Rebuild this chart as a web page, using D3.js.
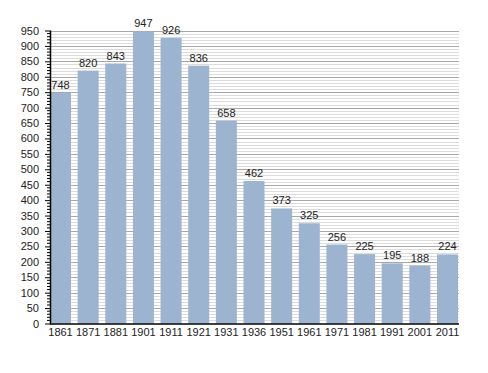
<!DOCTYPE html>
<html>
<head>
<meta charset="utf-8">
<script src="https://cdn.jsdelivr.net/npm/d3@7"></script>
<style>
  body { margin: 0; background: #fff; }
  text { font-family: "Liberation Sans", Arial, sans-serif; }
</style>
</head>
<body>
<svg width="488" height="373"></svg>
<script>
const years = ["1861","1871","1881","1901","1911","1921","1931","1936","1951","1961","1971","1981","1991","2001","2011"];
const population = [748, 820, 843, 947, 926, 836, 658, 462, 373, 325, 256, 225, 195, 188, 224];
const yTicks = d3.range(0, 951, 50);

const svg = d3.select("svg");
const plotLeft = 50, plotRight = 459, plotTop = 30.5, plotBottom = 323.5;

const x = d3.scaleBand().domain(years).range([plotLeft, plotRight - 1]).paddingInner(0.24).paddingOuter(0);
const y = d3.scaleLinear().domain([0, 950]).range([plotBottom, plotTop]);

// grid lines: light every 10, darker every 50
const grid = svg.append("g");
grid.selectAll("line.minor")
  .data(d3.range(10, 951, 10).filter(v => v % 50 !== 0))
  .enter().append("line")
  .attr("x1", plotLeft).attr("x2", plotRight)
  .attr("y1", d => Math.round(y(d)) + 0.5).attr("y2", d => Math.round(y(d)) + 0.5)
  .attr("stroke", "#dcdcdc").attr("stroke-width", 1);
grid.selectAll("line.major")
  .data(yTicks.filter(v => v > 0))
  .enter().append("line")
  .attr("x1", plotLeft).attr("x2", plotRight)
  .attr("y1", d => Math.round(y(d)) + 0.5).attr("y2", d => Math.round(y(d)) + 0.5)
  .attr("stroke", "#a8a8a8").attr("stroke-width", 1);

// bars
svg.append("g").selectAll("rect")
  .data(years)
  .enter().append("rect")
  .attr("x", d => x(d))
  .attr("width", x.bandwidth())
  .attr("y", (d, i) => y(population[i]))
  .attr("height", (d, i) => y(0) - y(population[i]))
  .attr("fill", "#9cb4cf");

// value labels
svg.append("g").selectAll("text")
  .data(years)
  .enter().append("text")
  .attr("x", d => x(d) + x.bandwidth() / 2)
  .attr("y", (d, i) => y(population[i]) - 4)
  .attr("text-anchor", "middle")
  .attr("font-size", 11)
  .attr("fill", "#222")
  .text((d, i) => population[i]);

// y axis with minor ticks
const yAxis = svg.append("g").attr("transform", "translate(" + plotLeft + ",0)");
yAxis.call(d3.axisLeft(y).tickValues(yTicks).tickSize(5).tickPadding(6))
  .call(g => g.select(".domain").remove())
  .call(g => g.selectAll("text").attr("font-size", 11).attr("fill", "#222").attr("font-family", "Liberation Sans, Arial, sans-serif"))
  .call(g => g.selectAll("line").attr("stroke", "#000"));
yAxis.selectAll("line.mt")
  .data(d3.range(0, 951, 10).filter(v => v % 50 !== 0))
  .enter().append("line")
  .attr("x1", -3).attr("x2", 0)
  .attr("y1", d => y(d)).attr("y2", d => y(d))
  .attr("stroke", "#000");
yAxis.append("line")
  .attr("x1", 0.5).attr("x2", 0.5)
  .attr("y1", plotTop).attr("y2", plotBottom + 1)
  .attr("stroke", "#000").attr("stroke-width", 1.5);

// x axis
const xAxis = svg.append("g").attr("transform", "translate(0," + plotBottom + ")");
xAxis.call(d3.axisBottom(x).tickSize(0).tickPadding(5))
  .call(g => g.select(".domain").remove())
  .call(g => g.selectAll("text").attr("font-size", 11).attr("fill", "#222").attr("font-family", "Liberation Sans, Arial, sans-serif"));
xAxis.append("line")
  .attr("x1", plotLeft).attr("x2", plotRight)
  .attr("y1", 0.5).attr("y2", 0.5)
  .attr("stroke", "#000").attr("stroke-width", 1.5);
</script>
</body>
</html>
